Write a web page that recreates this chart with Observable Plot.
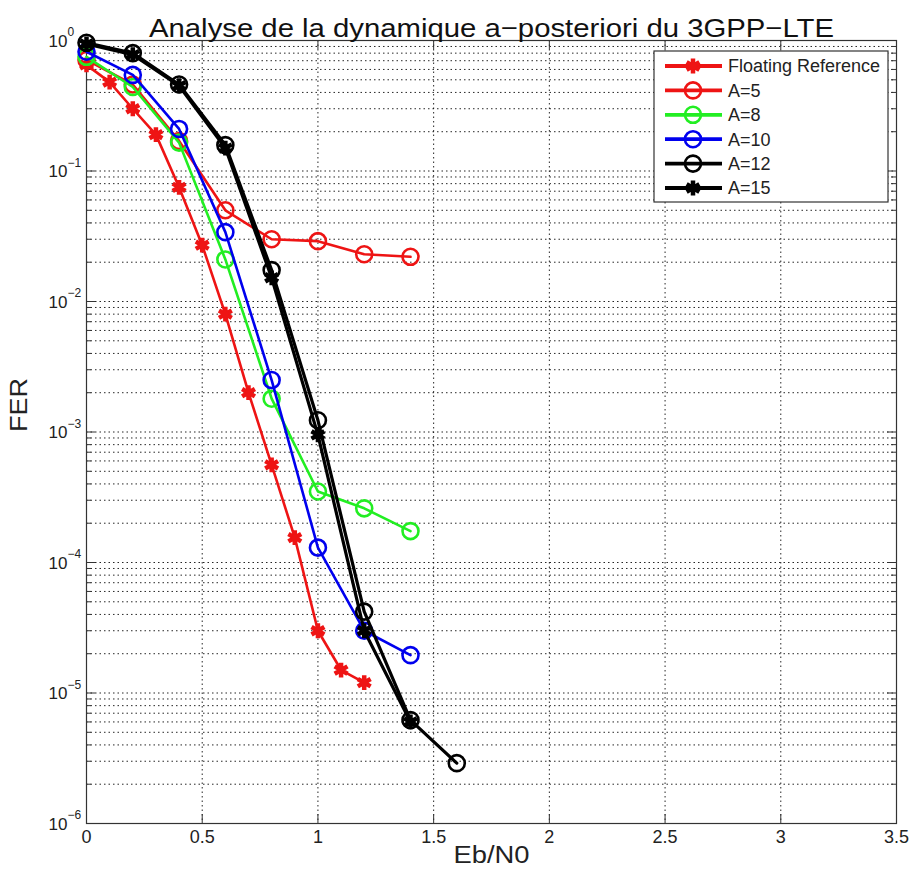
<!DOCTYPE html>
<html><head><meta charset="utf-8">
<script src="https://cdn.jsdelivr.net/npm/d3@7"></script>
<script src="https://cdn.jsdelivr.net/npm/@observablehq/plot@0.6"></script>
<style>
body{margin:0;background:#fff}
svg{font-family:"Liberation Sans",Arial,Helvetica,sans-serif}
</style>
</head><body><div id="chart"></div>
<script>
// ---- text ----
const title = "Analyse de la dynamique a\u2212posteriori du 3GPP\u2212LTE";
const xLabel = "Eb/N0";
const yLabel = "FER";
// ---- ticks ----
const xTicks = [0, 0.5, 1, 1.5, 2, 2.5, 3, 3.5];
const xTickLabels = ["0", "0.5", "1", "1.5", "2", "2.5", "3", "3.5"];
const yDecades = [1e0, 1e-1, 1e-2, 1e-3, 1e-4, 1e-5, 1e-6];
const yExponents = ["0", "\u22121", "\u22122", "\u22123", "\u22124", "\u22125", "\u22126"];
// ---- series ----
const seriesNames = ["Floating Reference", "A=5", "A=8", "A=10", "A=12", "A=15"];
const seriesColors = ["#ee1414", "#ee1414", "#22ee22", "#0000ee", "#000000", "#000000"];
const seriesSymbols = ["asterisk", "circle", "circle", "circle", "circle", "asterisk"];
const xFloat = [0, 0.1, 0.2, 0.3, 0.4, 0.5, 0.6, 0.7, 0.8, 0.9, 1.0, 1.1, 1.2];
const ferFloat = [0.65, 0.48, 0.30, 0.19, 0.075, 0.027, 0.008, 0.002, 5.6e-4, 1.55e-4, 3.0e-5, 1.5e-5, 1.2e-5];
const xA = [0, 0.2, 0.4, 0.6, 0.8, 1.0, 1.2, 1.4];
const ferA5 = [0.71, 0.46, 0.17, 0.050, 0.030, 0.029, 0.023, 0.022];
const ferA8 = [0.75, 0.44, 0.165, 0.021, 0.0018, 3.5e-4, 2.6e-4, 1.74e-4];
const ferA10 = [0.82, 0.545, 0.21, 0.034, 0.0025, 1.3e-4, 3.0e-5, 1.95e-5];
const xA12 = [0, 0.2, 0.4, 0.6, 0.8, 1.0, 1.2, 1.4, 1.6];
const ferA12 = [0.96, 0.80, 0.46, 0.158, 0.0174, 0.00123, 4.2e-5, 6.2e-6, 2.9e-6];
const ferA15 = [0.94, 0.78, 0.45, 0.150, 0.0152, 9.5e-4, 3.0e-5, 6.0e-6];

const seriesX = [xFloat, xA, xA, xA, xA12, xA];
const seriesY = [ferFloat, ferA5, ferA8, ferA10, ferA12, ferA15];
const seriesWidth = [2.6, 2.6, 2.6, 2.6, 3.2, 3.2];

const W = 912, H = 879;
const mL = 86, mR = 16, mT = 40, mB = 56;
const fw = W - mL - mR, fh = H - mT - mB;

// grid lines (major + minor decades)
const yGrid = [];
for (let e = 0; e >= -6; e--) for (let m = 1; m <= 9; m++) { const v = m * Math.pow(10, e - 1); if (v >= 1e-6 && v <= 1) yGrid.push(v); }
yGrid.push(1);
const yMinor = yGrid.filter(v => !yDecades.some(d => Math.abs(d - v) / d < 1e-9));

const marks = [
  Plot.ruleY(yGrid, {y: d => d, stroke: "#000", strokeOpacity: 0.85, strokeDasharray: "1.5,3"}),
  Plot.ruleX(xTicks, {x: d => d, stroke: "#000", strokeOpacity: 0.85, strokeDasharray: "1.5,3"}),
  // inward ticks
  Plot.tickX(xTicks, {x: d => d, insetTop: fh - 9, stroke: "#333"}),
  Plot.tickX(xTicks, {x: d => d, insetBottom: fh - 9, stroke: "#333"}),
  Plot.tickY(yDecades, {y: d => d, insetRight: fw - 9, stroke: "#333"}),
  Plot.tickY(yDecades, {y: d => d, insetLeft: fw - 9, stroke: "#333"}),
  Plot.tickY(yMinor, {y: d => d, insetRight: fw - 5, stroke: "#333"}),
  Plot.tickY(yMinor, {y: d => d, insetLeft: fw - 5, stroke: "#333"}),
  Plot.frame({stroke: "#333", strokeWidth: 1.2}),
];

seriesNames.forEach((name, s) => {
  const data = seriesX[s].map((x, i) => ({x, y: seriesY[s][i]}));
  marks.push(Plot.line(data, {x: "x", y: "y", stroke: seriesColors[s], strokeWidth: seriesWidth[s]}));
  if (seriesSymbols[s] === "circle") {
    marks.push(Plot.dot(data, {x: "x", y: "y", r: 8, symbol: "circle", stroke: seriesColors[s], strokeWidth: 2.6, fill: "none"}));
  } else {
    marks.push(Plot.dot(data, {x: "x", y: "y", r: 7, symbol: "asterisk", stroke: seriesColors[s], strokeWidth: 4.5}));
    marks.push(Plot.dot(data, {x: "x", y: "y", r: 3.5, symbol: "circle", fill: seriesColors[s]}));
  }
});

marks.push(
  Plot.axisX({ticks: xTicks, tickSize: 0, tickPadding: 7, tickFormat: d => xTickLabels[xTicks.indexOf(d)], fontSize: 18, label: null, fill: "#222"}),
  Plot.text(yDecades, {y: d => d, text: () => "10", frameAnchor: "left", textAnchor: "end", dx: -19, dy: 1, fontSize: 17, fill: "#222"}),
  Plot.text(yDecades, {y: d => d, text: (d, i) => yExponents[i], frameAnchor: "left", textAnchor: "start", dx: -19, dy: -8, fontSize: 12, fill: "#222"}),
  Plot.text([xLabel], {text: d => d, frameAnchor: "bottom", dy: 39, fontSize: 23, fill: "#222"}),
  Plot.text([yLabel], {text: d => d, frameAnchor: "left", dx: -67, rotate: -90, fontSize: 23, fill: "#222"}),
  Plot.text([title], {text: d => d, frameAnchor: "top", dy: -22, fontSize: 26, fill: "#111"})
);

const chart = Plot.plot({
  width: W, height: H,
  marginLeft: mL, marginRight: mR, marginTop: mT, marginBottom: mB,
  x: {domain: [0, 3.5], axis: null},
  y: {type: "log", domain: [1e-6, 1], axis: null},
  style: {background: "#fff", overflow: "visible"},
  marks
});
document.getElementById("chart").appendChild(chart);

const svg = d3.select(chart);
const stretch = new Map([[title, 685], [xLabel, 76], [yLabel, 54]]);
svg.selectAll("text").each(function() {
  const t = this.textContent;
  if (stretch.has(t)) d3.select(this).attr("textLength", stretch.get(t)).attr("lengthAdjust", "spacingAndGlyphs");
});

// legend
const lg = svg.append("g").attr("class", "legend").attr("text-anchor", "start");
const bx = 654, by = 51, bw = 234, bh = 151;
lg.append("rect").attr("x", bx).attr("y", by).attr("width", bw).attr("height", bh)
  .attr("fill", "#fff").attr("stroke", "#333").attr("stroke-width", 1.2);
seriesNames.forEach((name, s) => {
  const yy = by + 15 + s * 24.4;
  lg.append("line").attr("x1", 665).attr("x2", 722).attr("y1", yy).attr("y2", yy)
    .attr("stroke", seriesColors[s]).attr("stroke-width", 3.8);
  if (seriesSymbols[s] === "circle") {
    lg.append("circle").attr("cx", 693).attr("cy", yy).attr("r", 8)
      .attr("fill", "none").attr("stroke", seriesColors[s]).attr("stroke-width", 2.6);
  } else {
    lg.append("path").attr("d", d3.symbol(d3.symbolAsterisk, 49 * Math.PI)())
      .attr("transform", `translate(693,${yy})`)
      .attr("fill", "none").attr("stroke", seriesColors[s]).attr("stroke-width", 4.5);
    lg.append("circle").attr("cx", 693).attr("cy", yy).attr("r", 3.5).attr("fill", seriesColors[s]);
  }
  lg.append("text").attr("x", 728).attr("y", yy).attr("dy", "0.35em").attr("text-anchor", "start")
    .attr("font-size", 18).attr("fill", "#222").text(name);
});
</script>
</body></html>
